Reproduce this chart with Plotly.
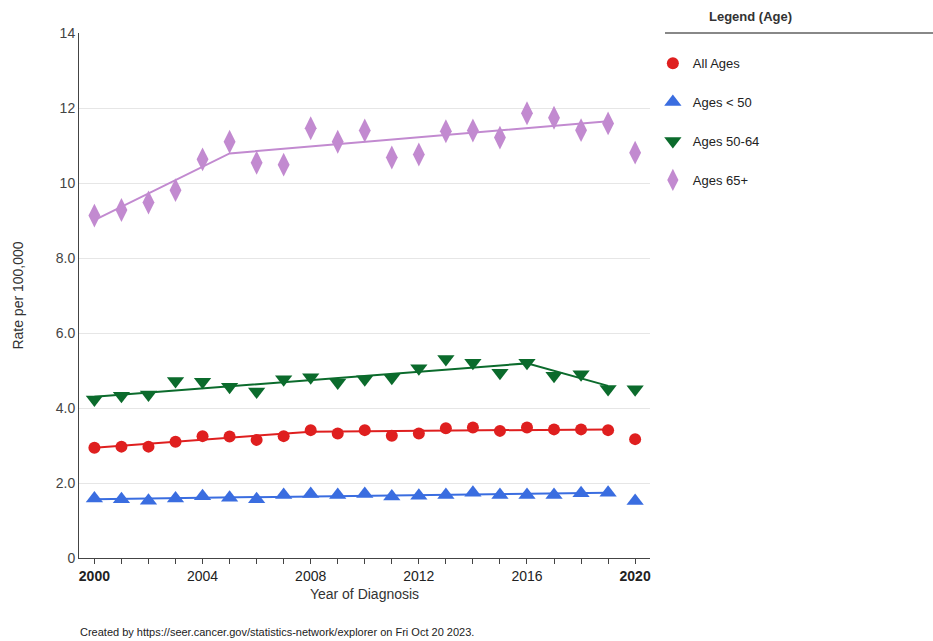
import plotly.graph_objects as go

# Observed rates per 100,000 by year of diagnosis
years = list(range(2000, 2021))

all_ages = [2.94, 2.97, 2.97, 3.10, 3.25, 3.24, 3.15, 3.25, 3.41, 3.32, 3.41,
            3.26, 3.32, 3.46, 3.48, 3.39, 3.48, 3.43, 3.43, 3.41, 3.17]
ages_lt50 = [1.59, 1.57, 1.53, 1.59, 1.65, 1.61, 1.57, 1.68, 1.71, 1.68, 1.71,
             1.64, 1.66, 1.68, 1.74, 1.68, 1.68, 1.68, 1.73, 1.74, 1.52]
ages_50_64 = [4.23, 4.33, 4.36, 4.72, 4.70, 4.57, 4.44, 4.77, 4.82, 4.68, 4.77,
              4.81, 5.06, 5.31, 5.21, 4.94, 5.21, 4.86, 4.90, 4.51, 4.50]
ages_65p = [9.13, 9.28, 9.48, 9.81, 10.63, 11.10, 10.54, 10.49, 11.46, 11.10, 11.40,
            10.68, 10.76, 11.38, 11.40, 11.21, 11.86, 11.74, 11.41, 11.59, 10.81]

# Joinpoint trend vertices (year, modeled rate)
trend_all_x = [2000, 2008, 2019]
trend_all_y = [2.94, 3.37, 3.43]
trend_lt50_x = [2000, 2019]
trend_lt50_y = [1.57, 1.74]
trend_50_64_x = [2000, 2016, 2019]
trend_50_64_y = [4.30, 5.19, 4.59]
trend_65p_x = [2000, 2005, 2019]
trend_65p_y = [9.01, 10.79, 11.65]

series = [
    ("All Ages", all_ages, trend_all_x, trend_all_y, "#df1f1f", "circle", 12),
    ("Ages < 50", ages_lt50, trend_lt50_x, trend_lt50_y, "#3a6de0", "triangle-up", 15),
    ("Ages 50-64", ages_50_64, trend_50_64_x, trend_50_64_y, "#0b6b2c", "triangle-down", 15),
    ("Ages 65+", ages_65p, trend_65p_x, trend_65p_y, "#c28ad0", "diamond-tall", 17),
]

x_ticks = list(range(2000, 2021))
x_labels = {2000: "<b>2000</b>", 2004: "2004", 2008: "2008", 2012: "2012",
            2016: "2016", 2020: "<b>2020</b>"}
y_ticks = [0, 2, 4, 6, 8, 10, 12, 14]
y_labels = ["0", "2.0", "4.0", "6.0", "8.0", "10", "12", "14"]

fig = go.Figure()
for name, vals, tx, ty, color, symbol, size in series:
    fig.add_trace(go.Scatter(
        x=tx, y=ty, mode="lines", line=dict(color=color, width=2),
        showlegend=False, legendgroup=name, hoverinfo="skip"))
    fig.add_trace(go.Scatter(
        x=years, y=vals, mode="markers", name=name, legendgroup=name,
        marker=dict(color=color, symbol=symbol, size=size, line=dict(width=0))))

font_family = "Liberation Sans, Arial, sans-serif"

fig.update_layout(
    width=933, height=641,
    margin=dict(l=79, r=283, t=33, b=83),
    paper_bgcolor="white", plot_bgcolor="white",
    font=dict(family=font_family, color="#444", size=13),
    showlegend=True,
    legend=dict(x=1.005, xanchor="left", y=0.971, yanchor="top",
                font=dict(size=13, color="#222"), tracegroupgap=19,
                itemwidth=30, bgcolor="rgba(0,0,0,0)"),
    xaxis=dict(range=[1999.43, 2020.55], tickmode="array", tickvals=x_ticks,
               ticktext=[x_labels.get(v, "") for v in x_ticks],
               ticks="outside", ticklen=5, tickcolor="#444", showgrid=False,
               showline=True, linecolor="#444", linewidth=1, zeroline=False,
               tickfont=dict(size=14, color="#222"),
               title=dict(text="Year of Diagnosis", font=dict(size=14, color="#333"),
                          standoff=6)),
    yaxis=dict(range=[0, 14], tickmode="array", tickvals=y_ticks, ticktext=y_labels,
               showgrid=True, gridcolor="#e6e6e6", gridwidth=1,
               showline=True, linecolor="#444", linewidth=1, zeroline=False,
               ticks="", tickfont=dict(size=14, color="#444"),
               title=dict(text="Rate per 100,000", font=dict(size=14, color="#333"),
                          standoff=28)),
)

# Legend heading with rule beneath
fig.add_annotation(text="<b>Legend (Age)</b>", xref="paper", yref="paper",
                   x=(750 - 79) / 571, y=1 + 16 / 525, xanchor="center", yanchor="middle",
                   showarrow=False, font=dict(size=13, color="#333"))
fig.add_shape(type="line", xref="paper", yref="paper",
              x0=(665 - 79) / 571, x1=(933 - 79) / 571, y0=1.0, y1=1.0,
              line=dict(color="#888", width=2))

# Footer credit
fig.add_annotation(text="Created by https://seer.cancer.gov/statistics-network/explorer on Fri Oct 20 2023.",
                   xref="paper", yref="paper", x=-0.002, y=-0.14, xanchor="left",
                   yanchor="middle", showarrow=False,
                   font=dict(size=11, color="#222"))

fig.write_html("out.html")
